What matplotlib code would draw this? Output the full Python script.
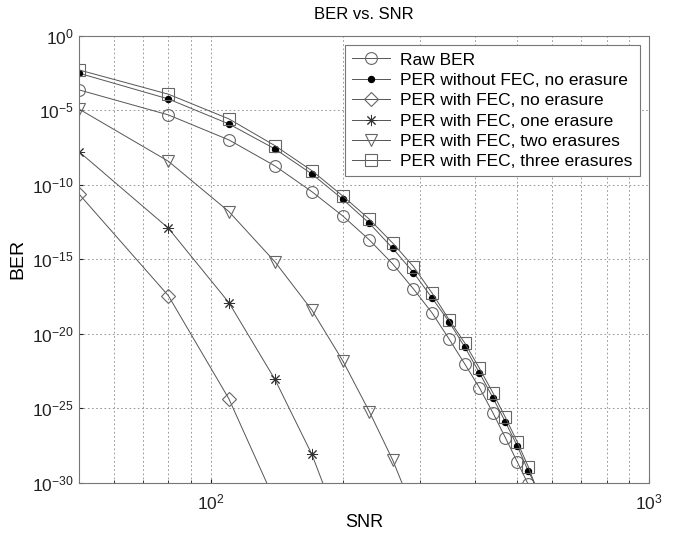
import numpy as np
import matplotlib.pyplot as plt
from matplotlib.ticker import LogLocator, NullFormatter

plt.rcParams['font.family'] = ['Liberation Sans', 'DejaVu Sans']

# SNR sample points (linear)
snr = [50, 80, 110, 140, 170, 200, 230, 260, 290, 320, 350, 380, 410, 440, 470, 500, 530, 560]

# log10 of error rates
raw_ber = [-3.62, -5.30, -6.98, -8.72, -10.45, -12.08, -13.69, -15.3, -16.98,
           -18.6, -20.36, -22.03, -23.6, -25.28, -26.96, -28.57, -30.1]
per_nofec = [-2.5, -4.23, -5.91, -7.58, -9.26, -10.96, -12.57, -14.25, -15.88,
             -17.6, -19.2, -20.9, -22.6, -24.27, -25.9, -27.5, -29.2, -30.6]
per_fec0 = [-10.6, -17.43, -24.36, -31.2]
per_fec1 = [-7.76, -12.9, -17.9, -23.04, -28.07, -33.5]
per_fec2 = [-4.9, -8.41, -11.79, -15.15, -18.39, -21.8, -25.21, -28.46, -31.9]
per_fec3 = [-2.28, -3.91, -5.57, -7.36, -9.04, -10.74, -12.3, -13.9, -15.48,
            -17.27, -19.06, -20.62, -22.3, -23.94, -25.6, -27.23, -28.9, -30.8]

labels = ['Raw BER', 'PER without FEC, no erasure', 'PER with FEC, no erasure',
          'PER with FEC, one erasure', 'PER with FEC, two erasures',
          'PER with FEC, three erasures']

fig = plt.figure(figsize=(6.74, 5.36), dpi=100)
ax = fig.add_axes([0.117, 0.099, 0.846, 0.834])

lc = '#555555'
styles = [
    (raw_ber, dict(marker='o', mfc='none', mec='#666666', ms=8.5)),
    (per_nofec, dict(marker='o', mfc='black', mec='black', ms=4.5)),
    (per_fec0, dict(marker='D', mfc='none', mec='#666666', ms=7)),
    (per_fec1, dict(marker=(8, 2, 0), mfc='none', mec='#333333', ms=8, mew=0.7)),
    (per_fec2, dict(marker='v', mfc='none', mec='#666666', ms=9)),
    (per_fec3, dict(marker='s', mfc='none', mec='#666666', ms=8.5)),
]
for (vals, st), lab in zip(styles, labels):
    x = snr[:len(vals)]
    y = 10.0 ** np.array(vals)
    ax.plot(x, y, color=lc, lw=0.7, label=lab, mew=st.pop('mew', 0.8), **st)

ax.set_xscale('log')
ax.set_yscale('log')
ax.set_xlim(50, 1000)
ax.set_ylim(1e-30, 1e0)
ax.set_yticks([10.0 ** k for k in range(-30, 1, 5)])
ax.yaxis.set_minor_locator(LogLocator(base=10, numticks=100, subs='all'))
ax.yaxis.set_minor_formatter(NullFormatter())
ax.xaxis.set_minor_formatter(NullFormatter())
ax.tick_params(which='both', direction='in', labelsize=12.5, colors='#222222')
ax.tick_params(which='minor', axis='y', length=0)
ax.tick_params(which='major', length=3)
ax.tick_params(axis='x', which='major', pad=7)

ax.grid(True, which='major', ls=(0, (2, 3)), color='#888888', lw=0.6)
ax.grid(True, which='minor', axis='x', ls=(0, (2, 3)), color='#888888', lw=0.6)
for s in ax.spines.values():
    s.set_color('#777777')
    s.set_linewidth(0.8)

ax.set_title('BER vs. SNR', fontsize=12, pad=12)
ax.set_xlabel('SNR', fontsize=13, labelpad=1)
ax.set_ylabel('BER', fontsize=14, labelpad=4)

leg = ax.legend(loc='upper right', fontsize=12.5, handlelength=2.2, labelspacing=0.3,
                borderaxespad=0.55, fancybox=False, framealpha=1, borderpad=0.4,
                handletextpad=0.6)
leg.get_frame().set_edgecolor('#777777')
leg.get_frame().set_linewidth(0.8)

fig.savefig('out.png', dpi=100)
